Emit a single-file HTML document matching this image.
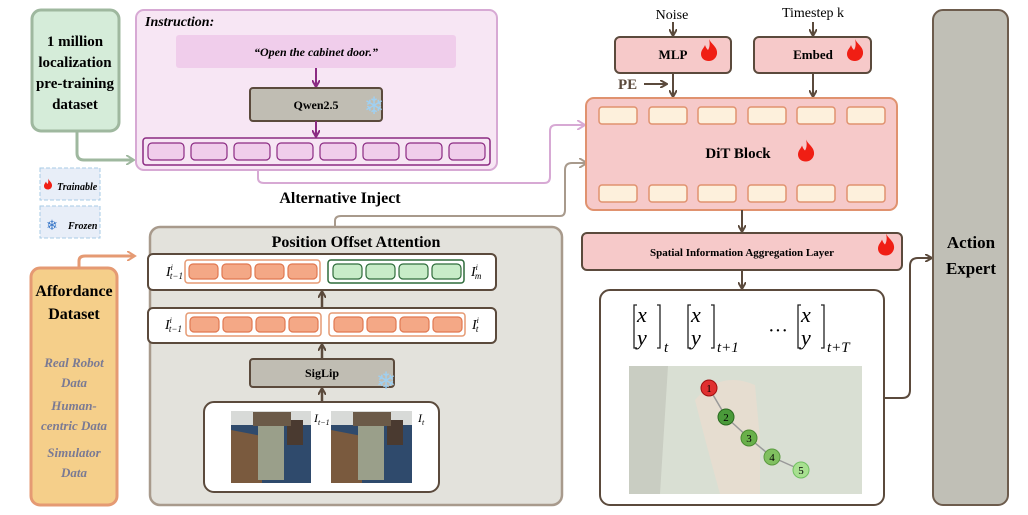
<!DOCTYPE html>
<html><head><meta charset="utf-8"><style>
body{margin:0;background:#fff}
svg{display:block}
text{font-family:"Liberation Serif","DejaVu Serif",serif}
</style></head><body>
<svg width="1028" height="515" viewBox="0 0 1028 515" xmlns="http://www.w3.org/2000/svg">
<defs>
<marker id="ab" markerWidth="8" markerHeight="8" refX="6" refY="4" orient="auto" markerUnits="userSpaceOnUse"><path d="M0,0 L7,4 L0,8" fill="none" stroke="#5b4a3c" stroke-width="2"/></marker>
<marker id="ap" markerWidth="8" markerHeight="8" refX="6" refY="4" orient="auto" markerUnits="userSpaceOnUse"><path d="M0,0 L7,4 L0,8" fill="none" stroke="#8b2a82" stroke-width="2"/></marker>
<marker id="ag" markerWidth="10" markerHeight="10" refX="7" refY="5" orient="auto" markerUnits="userSpaceOnUse"><path d="M0,0 L8,5 L0,10" fill="none" stroke="#9fb89f" stroke-width="2"/></marker>
<marker id="ao" markerWidth="10" markerHeight="10" refX="7" refY="5" orient="auto" markerUnits="userSpaceOnUse"><path d="M0,0 L8,5 L0,10" fill="none" stroke="#e59a73" stroke-width="2"/></marker>
<marker id="apk" markerWidth="10" markerHeight="10" refX="7" refY="5" orient="auto" markerUnits="userSpaceOnUse"><path d="M0,0 L8,5 L0,10" fill="none" stroke="#d7a9d4" stroke-width="2"/></marker>
<marker id="agr" markerWidth="10" markerHeight="10" refX="7" refY="5" orient="auto" markerUnits="userSpaceOnUse"><path d="M0,0 L8,5 L0,10" fill="none" stroke="#a89a8c" stroke-width="2"/></marker>
<symbol id="fl" viewBox="0 0 20 24"><path d="M10,1 C12,6 19,9 18,16 C17,21 13,23 10,23 C5,23 2,20 2,16 C2,12 5,10 6,7 C7,10 8,11 9,12 C11,9 11,5 10,1Z" fill="#f01e14"/></symbol>
</defs>

<rect x="32" y="10" width="87" height="121" rx="9" fill="#d5ecd9" stroke="#9fb89f" stroke-width="3"/>
<g font-weight="bold" font-size="15" text-anchor="middle">
<text x="75" y="46">1 million</text><text x="75" y="67">localization</text><text x="75" y="88">pre-training</text><text x="75" y="109">dataset</text></g>
<path d="M77,132 V153 Q77,160 84,160 H133" fill="none" stroke="#9fb89f" stroke-width="3" marker-end="url(#ag)"/>

<rect x="40" y="168" width="60" height="32" fill="#e8eef8" stroke="#a7cbe6" stroke-dasharray="4,2"/>
<use href="#fl" x="43" y="178" width="10" height="12"/>
<text x="57" y="190" font-size="10" font-weight="bold" font-style="italic">Trainable</text>
<rect x="40" y="206" width="60" height="32" fill="#e8eef8" stroke="#a7cbe6" stroke-dasharray="4,2"/>
<text x="52" y="230" font-size="14" fill="#3a78c8" text-anchor="middle" font-family="DejaVu Sans">❄</text>
<text x="68" y="229" font-size="10" font-weight="bold" font-style="italic">Frozen</text>

<rect x="136" y="10" width="361" height="160" rx="8" fill="#f7e6f4" stroke="#d7a9d4" stroke-width="2"/>
<text x="145" y="26" font-size="14" font-weight="bold" font-style="italic">Instruction:</text>
<rect x="176" y="35" width="280" height="33" rx="3" fill="#f0cdeb"/>
<text x="316" y="56" font-size="12" font-weight="bold" font-style="italic" text-anchor="middle">“Open the cabinet door.”</text>
<line x1="316" y1="68" x2="316" y2="86" stroke="#8b2a82" stroke-width="2" marker-end="url(#ap)"/>
<rect x="250" y="88" width="132" height="33" rx="3" fill="#c0bdb3" stroke="#5b4a3c" stroke-width="2"/>
<text x="316" y="109" font-size="12" font-weight="bold" text-anchor="middle">Qwen2.5</text>
<text x="374" y="114" font-size="24" fill="#9fd0f2" text-anchor="middle" font-family="DejaVu Sans">❄</text>
<line x1="316" y1="121" x2="316" y2="136" stroke="#8b2a82" stroke-width="2" marker-end="url(#ap)"/>
<rect x="143" y="138" width="347" height="27" rx="3" fill="#f7e6f4" stroke="#8b2a82" stroke-width="1.5"/>
<g fill="#f0cdeb" stroke="#8b2a82" stroke-width="1.2">
<rect x="148" y="143" width="36" height="17" rx="4"/><rect x="191" y="143" width="36" height="17" rx="4"/><rect x="234" y="143" width="36" height="17" rx="4"/><rect x="277" y="143" width="36" height="17" rx="4"/><rect x="320" y="143" width="36" height="17" rx="4"/><rect x="363" y="143" width="36" height="17" rx="4"/><rect x="406" y="143" width="36" height="17" rx="4"/><rect x="449" y="143" width="36" height="17" rx="4"/></g>
<text x="340" y="203" font-size="16" font-weight="bold" text-anchor="middle">Alternative Inject</text>
<path d="M258,170 V178 Q258,183 264,183 H544 Q550,183 550,177 V131 Q550,125 556,125 H584" fill="none" stroke="#d7a9d4" stroke-width="2" marker-end="url(#apk)"/>
<path d="M335,227 V221 Q335,216 341,216 H560 Q565,216 565,210 V170 Q565,163 572,163 H586" fill="none" stroke="#a89a8c" stroke-width="2" marker-end="url(#agr)"/>

<rect x="31" y="268" width="86" height="237" rx="9" fill="#f5cf8a" stroke="#e59a73" stroke-width="3"/>
<path d="M79,268 V261 Q79,256 85,256 H134" fill="none" stroke="#e59a73" stroke-width="3" marker-end="url(#ao)"/>
<text x="74" y="296" font-size="16" font-weight="bold" text-anchor="middle">Affordance</text>
<text x="74" y="319" font-size="16" font-weight="bold" text-anchor="middle">Dataset</text>
<g font-size="13" font-style="italic" font-weight="bold" fill="#7a7a94" text-anchor="middle">
<text x="74" y="367">Real Robot</text><text x="74" y="387">Data</text><text x="74" y="410">Human-</text><text x="74" y="430">centric Data</text><text x="74" y="457">Simulator</text><text x="74" y="477">Data</text></g>

<rect x="150" y="227" width="412" height="278" rx="10" fill="#e3e2dc" stroke="#a89a8c" stroke-width="2.5"/>
<text x="356" y="247" font-size="16" font-weight="bold" text-anchor="middle">Position Offset Attention</text>
<rect x="148" y="254" width="348" height="36" rx="5" fill="#fff" stroke="#5b4a3c" stroke-width="2"/>
<rect x="185" y="260" width="135" height="23" rx="3" fill="#fff" stroke="#e59a73" stroke-width="1.5"/>
<rect x="328" y="260" width="136" height="23" rx="3" fill="#fff" stroke="#2e6b3a" stroke-width="1.5"/>
<g fill="#f4a886" stroke="#e07850" stroke-width="1.2"><rect x="189" y="264" width="29" height="15" rx="4"/><rect x="222" y="264" width="29" height="15" rx="4"/><rect x="255" y="264" width="29" height="15" rx="4"/><rect x="288" y="264" width="29" height="15" rx="4"/></g>
<g fill="#c8ecc8" stroke="#2e6b3a" stroke-width="1.2"><rect x="333" y="264" width="29" height="15" rx="4"/><rect x="366" y="264" width="29" height="15" rx="4"/><rect x="399" y="264" width="29" height="15" rx="4"/><rect x="432" y="264" width="29" height="15" rx="4"/></g>
<text x="166" y="276" font-size="14" font-style="italic">I<tspan font-size="8" dy="-6">i</tspan><tspan font-size="9" dx="-3" dy="9">t−1</tspan></text>
<text x="471" y="276" font-size="14" font-style="italic">I<tspan font-size="8" dy="-6">i</tspan><tspan font-size="9" dx="-3" dy="9">m</tspan></text>
<rect x="148" y="308" width="348" height="35" rx="5" fill="#fff" stroke="#5b4a3c" stroke-width="2"/>
<rect x="186" y="313" width="135" height="23" rx="3" fill="#fff" stroke="#e59a73" stroke-width="1.5"/>
<rect x="329" y="313" width="136" height="23" rx="3" fill="#fff" stroke="#e59a73" stroke-width="1.5"/>
<g fill="#f4a886" stroke="#e07850" stroke-width="1.2"><rect x="190" y="317" width="29" height="15" rx="4"/><rect x="223" y="317" width="29" height="15" rx="4"/><rect x="256" y="317" width="29" height="15" rx="4"/><rect x="289" y="317" width="29" height="15" rx="4"/><rect x="334" y="317" width="29" height="15" rx="4"/><rect x="367" y="317" width="29" height="15" rx="4"/><rect x="400" y="317" width="29" height="15" rx="4"/><rect x="433" y="317" width="29" height="15" rx="4"/></g>
<text x="165" y="329" font-size="14" font-style="italic">I<tspan font-size="8" dy="-6">i</tspan><tspan font-size="9" dx="-3" dy="9">t−1</tspan></text>
<text x="472" y="329" font-size="14" font-style="italic">I<tspan font-size="8" dy="-6">i</tspan><tspan font-size="9" dx="-3" dy="9">t</tspan></text>
<line x1="322" y1="308" x2="322" y2="292" stroke="#5b4a3c" stroke-width="2.5" marker-end="url(#ab)"/>
<rect x="250" y="359" width="144" height="28" rx="3" fill="#c0bdb3" stroke="#5b4a3c" stroke-width="2"/>
<text x="322" y="377" font-size="12" font-weight="bold" text-anchor="middle">SigLip</text>
<text x="386" y="389" font-size="24" fill="#9fd0f2" text-anchor="middle" font-family="DejaVu Sans">❄</text>
<line x1="322" y1="359" x2="322" y2="345" stroke="#5b4a3c" stroke-width="2.5" marker-end="url(#ab)"/>
<line x1="322" y1="402" x2="322" y2="389" stroke="#5b4a3c" stroke-width="2.5" marker-end="url(#ab)"/>
<rect x="204" y="402" width="235" height="90" rx="10" fill="#fff" stroke="#5b4a3c" stroke-width="2"/>
<g>
<rect x="231" y="411" width="80" height="72" fill="#2f4a6c"/><rect x="231" y="411" width="80" height="14" fill="#d8dad8"/><path d="M231,430 L262,436 L262,483 H231Z" fill="#7a5a3e"/><rect x="287" y="420" width="16" height="25" fill="#4a3a30"/><rect x="258" y="422" width="26" height="58" fill="#9a9f8a"/><rect x="253" y="412" width="38" height="14" fill="#6b5a48"/>
<rect x="331" y="411" width="81" height="72" fill="#2f4a6c"/><rect x="331" y="411" width="81" height="14" fill="#d8dad8"/><path d="M331,430 L362,436 L362,483 H331Z" fill="#7a5a3e"/><rect x="387" y="420" width="16" height="25" fill="#4a3a30"/><rect x="358" y="422" width="26" height="58" fill="#9a9f8a"/><rect x="353" y="412" width="38" height="14" fill="#6b5a48"/></g>
<text x="314" y="422" font-size="12" font-style="italic">I<tspan font-size="8" dy="3">t−1</tspan></text>
<text x="418" y="422" font-size="12" font-style="italic">I<tspan font-size="8" dy="3">t</tspan></text>

<text x="672" y="19" font-size="14" text-anchor="middle">Noise</text>
<text x="813" y="17" font-size="14" text-anchor="middle">Timestep k</text>
<line x1="673" y1="22" x2="673" y2="35" stroke="#5b4a3c" stroke-width="2" marker-end="url(#ab)"/>
<line x1="813" y1="22" x2="813" y2="35" stroke="#5b4a3c" stroke-width="2" marker-end="url(#ab)"/>
<rect x="615" y="37" width="116" height="36" rx="5" fill="#f6c9c9" stroke="#5b4a3c" stroke-width="2"/>
<text x="673" y="59" font-size="13" font-weight="bold" text-anchor="middle">MLP</text>
<use href="#fl" x="699" y="38" width="20" height="24"/>
<rect x="754" y="37" width="117" height="36" rx="5" fill="#f6c9c9" stroke="#5b4a3c" stroke-width="2"/>
<text x="813" y="59" font-size="13" font-weight="bold" text-anchor="middle">Embed</text>
<use href="#fl" x="845" y="38" width="20" height="24"/>
<text x="618" y="89" font-size="15" font-weight="bold" fill="#5b4a3c">PE</text>
<line x1="644" y1="84" x2="666" y2="84" stroke="#5b4a3c" stroke-width="2" marker-end="url(#ab)"/>
<line x1="673" y1="73" x2="673" y2="96" stroke="#5b4a3c" stroke-width="2" marker-end="url(#ab)"/>
<line x1="813" y1="73" x2="813" y2="96" stroke="#5b4a3c" stroke-width="2" marker-end="url(#ab)"/>
<rect x="586" y="98" width="311" height="112" rx="8" fill="#f6c9c9" stroke="#e0926f" stroke-width="2"/>
<g fill="#fdf0dc" stroke="#e0926f" stroke-width="1.5">
<rect x="599" y="107" width="38" height="17" rx="3"/><rect x="649" y="107" width="38" height="17" rx="3"/><rect x="698" y="107" width="38" height="17" rx="3"/><rect x="748" y="107" width="38" height="17" rx="3"/><rect x="797" y="107" width="38" height="17" rx="3"/><rect x="847" y="107" width="38" height="17" rx="3"/>
<rect x="599" y="185" width="38" height="17" rx="3"/><rect x="649" y="185" width="38" height="17" rx="3"/><rect x="698" y="185" width="38" height="17" rx="3"/><rect x="748" y="185" width="38" height="17" rx="3"/><rect x="797" y="185" width="38" height="17" rx="3"/><rect x="847" y="185" width="38" height="17" rx="3"/></g>
<text x="738" y="158" font-size="15" font-weight="bold" text-anchor="middle">DiT Block</text>
<use href="#fl" x="796" y="138" width="20" height="25"/>
<line x1="742" y1="210" x2="742" y2="231" stroke="#5b4a3c" stroke-width="2" marker-end="url(#ab)"/>
<rect x="582" y="233" width="320" height="37" rx="5" fill="#f6c9c9" stroke="#5b4a3c" stroke-width="2"/>
<text x="742" y="256" font-size="11" font-weight="bold" text-anchor="middle">Spatial Information Aggregation Layer</text>
<use href="#fl" x="876" y="232" width="20" height="25"/>
<line x1="742" y1="270" x2="742" y2="288" stroke="#5b4a3c" stroke-width="2" marker-end="url(#ab)"/>
<rect x="600" y="290" width="284" height="215" rx="10" fill="#fff" stroke="#5b4a3c" stroke-width="2"/>
<g font-size="22" font-style="italic">
<text x="637" y="322">x</text><text x="637" y="345">y</text>
<text x="691" y="322">x</text><text x="691" y="345">y</text>
<text x="801" y="322">x</text><text x="801" y="345">y</text></g>
<g fill="none" stroke="#222" stroke-width="1.3">
<path d="M637,305 h-3 v43 h3"/><path d="M657,305 h3 v43 h-3"/>
<path d="M691,305 h-3 v43 h3"/><path d="M711,305 h3 v43 h-3"/>
<path d="M801,305 h-3 v43 h3"/><path d="M821,305 h3 v43 h-3"/></g>
<g font-size="15" font-style="italic"><text x="664" y="352">t</text><text x="717" y="352">t+1</text><text x="827" y="352">t+T</text></g>
<text x="768" y="337" font-size="20">···</text>
<rect x="629" y="366" width="233" height="128" fill="#d9dfd3"/>
<path d="M629,366 H668 L660,494 H629Z" fill="#c9cdc2"/>
<path d="M695,400 Q720,370 755,385 L760,440 L760,494 H720 Q705,440 695,400Z" fill="#e6ddd0"/>
<g stroke="#999" stroke-width="1.5"><line x1="709" y1="388" x2="726" y2="417"/><line x1="726" y1="417" x2="749" y2="438"/><line x1="749" y1="438" x2="772" y2="457"/><line x1="772" y1="457" x2="801" y2="470"/></g>
<g font-family="DejaVu Sans" font-size="11" text-anchor="middle">
<circle cx="709" cy="388" r="8" fill="#e03030" stroke="#a01010"/><text x="709" y="392">1</text>
<circle cx="726" cy="417" r="8" fill="#4a9a3a" stroke="#2a6a20"/><text x="726" y="421">2</text>
<circle cx="749" cy="438" r="8" fill="#6ab04a" stroke="#4a8a30"/><text x="749" y="442">3</text>
<circle cx="772" cy="457" r="8" fill="#80c060" stroke="#5a9a40"/><text x="772" y="461">4</text>
<circle cx="801" cy="470" r="8" fill="#a8e090" stroke="#70c060"/><text x="801" y="474">5</text></g>
<path d="M884,398 H902 Q910,398 910,390 V266 Q910,258 918,258 H931" fill="none" stroke="#5b4a3c" stroke-width="2" marker-end="url(#ab)"/>
<rect x="933" y="10" width="75" height="495" rx="10" fill="#c0bfb6" stroke="#6d5c4d" stroke-width="2"/>
<text x="971" y="248" font-size="17" font-weight="bold" text-anchor="middle">Action</text>
<text x="971" y="274" font-size="17" font-weight="bold" text-anchor="middle">Expert</text>
</svg>
</body></html>
